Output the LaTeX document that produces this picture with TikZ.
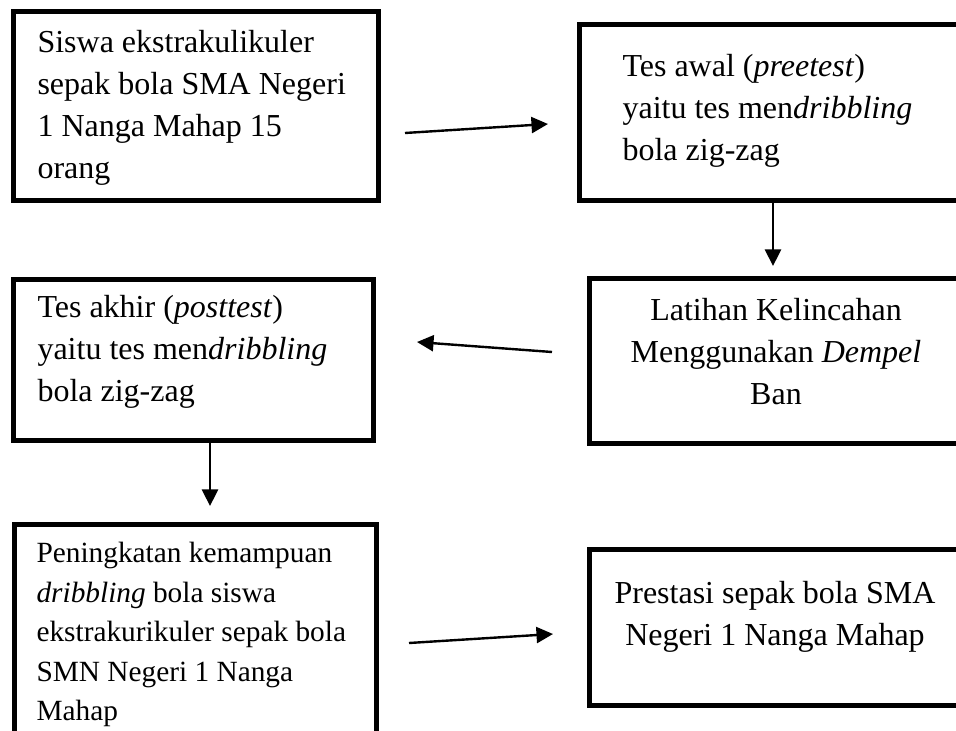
\documentclass[tikz,border=0pt]{standalone}
\usepackage{fontspec}
\setmainfont{Liberation Serif}
\usetikzlibrary{arrows.meta}

\begin{document}
\begin{tikzpicture}[x=0.375pt,y=-0.375pt,
  box/.style={draw,line width=1.8pt,rectangle,inner sep=0pt},
  txt/.style={inner sep=0pt,font=\fontsize{12}{15.75}\selectfont},
  arr/.style={-{Triangle[length=6.2pt,width=6pt]},line width=0.9pt}]

  \useasboundingbox (0,0) rectangle (956,731);
  \clip (0,0) rectangle (956,731);

  % boxes
  \node[box,minimum width=137pt,minimum height=71pt] (siswa) at (196,106) {};
  \node[box,minimum width=158pt,minimum height=66pt] (awal) at (790,112.5) {};
  \node[box,minimum width=154pt,minimum height=62pt] (latihan) at (795,361) {};
  \node[box,minimum width=135pt,minimum height=60.5pt] (akhir) at (193.5,360) {};
  \node[box,minimum width=136pt,minimum height=103pt] (naik) at (195.5,661.5) {};
  \node[box,minimum width=154pt,minimum height=58.6pt] (prestasi) at (795,627.5) {};

  % texts
  \node[txt,anchor=north west,align=left] (siswa text) at (37,30)
    {Siswa ekstrakulikuler\\sepak bola SMA Negeri\\1 Nanga Mahap 15\\orang};
  \node[txt,anchor=north west,align=left] (awal text) at (622,54)
    {Tes awal (\textit{preetest})\\yaitu tes men\textit{dribbling}\\bola zig-zag};
  \node[txt,anchor=north,align=center] (latihan text) at (776,298)
    {Latihan Kelincahan\\Menggunakan \textit{Dempel}\\Ban};
  \node[txt,anchor=north west,align=left] (akhir text) at (37,295)
    {Tes akhir (\textit{posttest})\\yaitu tes men\textit{dribbling}\\bola zig-zag};
  \node[txt,anchor=north west,align=left,font=\fontsize{11}{14.8}\selectfont] (naik text) at (36,542)
    {Peningkatan kemampuan\\\textit{dribbling} bola siswa\\ekstrakurikuler sepak bola\\SMN Negeri 1 Nanga\\Mahap};
  \node[txt,anchor=north,align=center] (prestasi text) at (775,581)
    {Prestasi sepak bola SMA\\Negeri 1 Nanga Mahap};

  % arrow ends
  \coordinate (siswa out) at (405,133);
  \coordinate (awal in) at (548,124);
  \coordinate (awal out) at (773,202);
  \coordinate (latihan in) at (773,266);
  \coordinate (latihan out) at (552,352);
  \coordinate (akhir in) at (417,342);
  \coordinate (akhir out) at (210,442);
  \coordinate (naik in) at (210,506);
  \coordinate (naik out) at (409,643);
  \coordinate (prestasi in) at (553,634);

  \draw[arr] (siswa out) -- (awal in);
  \draw[arr] (awal out) -- (latihan in);
  \draw[arr] (latihan out) -- (akhir in);
  \draw[arr] (akhir out) -- (naik in);
  \draw[arr] (naik out) -- (prestasi in);

\end{tikzpicture}
\end{document}
